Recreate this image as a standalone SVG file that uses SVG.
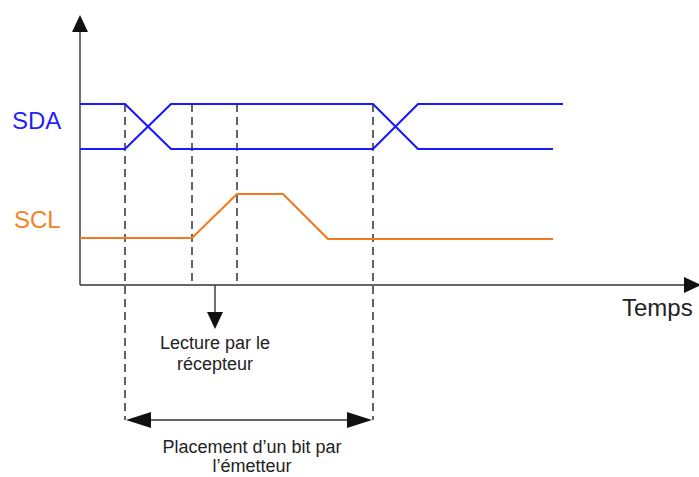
<svg xmlns="http://www.w3.org/2000/svg" width="699" height="477" viewBox="0 0 699 477">
<style>
.axis{stroke:#333;stroke-width:1.4;fill:none}
.dash{stroke:#111;stroke-width:1.3;stroke-dasharray:8,5;fill:none}
.sda{stroke:#1a1aff;stroke-width:2.2;fill:none;stroke-linejoin:miter}
.scl{stroke:#f47a20;stroke-width:2.2;fill:none}
.lbl{font-family:"Liberation Sans",Arial,sans-serif}
.note{font-family:"Liberation Sans",Arial,sans-serif;font-size:18px;fill:#222;text-anchor:middle}
.head{fill:#111}
</style>
<rect width="699" height="477" fill="#fff"/>
<g id="connectors">
  <line class="axis" x1="80" y1="30" x2="80" y2="285"/>
  <polygon class="head" points="80,15 72,32 88,32"/>
  <line class="axis" x1="80" y1="285" x2="686" y2="285"/>
  <polygon class="head" points="701,285 684,277 684,293"/>
  <line class="dash" x1="125" y1="104" x2="125" y2="420"/>
  <line class="dash" x1="373" y1="104" x2="373" y2="420"/>
  <line class="dash" x1="192" y1="104" x2="192" y2="285"/>
  <line class="dash" x1="237" y1="104" x2="237" y2="285"/>
  <line class="axis" x1="215" y1="285" x2="215" y2="314"/>
  <polygon class="head" points="215,329 207,312 223,312"/>
  <line class="axis" x1="145" y1="420" x2="353" y2="420"/>
  <polygon class="head" points="126,420 151,412 151,428"/>
  <polygon class="head" points="372,420 347,412 347,428"/>
</g>
<g id="sda">
  <polyline class="sda" points="80,104 125,104 171,149 373,149 418,104 563,104"/>
  <polyline class="sda" points="80,149 125,149 171,104 373,104 418,149 553,149"/>
  <text class="lbl" x="12" y="129" font-size="24" fill="#1f1fff">SDA</text>
</g>
<g id="scl">
  <polyline class="scl" points="80,238 192,238 237,194 283,194 328,239 553,239"/>
  <text class="lbl" x="14" y="228" font-size="24" fill="#f5822a">SCL</text>
</g>
<g id="temps">
  <text class="lbl" x="622" y="316" font-size="24" fill="#222">Temps</text>
</g>
<g id="lecture">
  <text class="note" x="215" y="349">Lecture par le</text>
  <text class="note" x="215" y="370">récepteur</text>
</g>
<g id="placement">
  <text class="note" x="252" y="453">Placement d’un bit par</text>
  <text class="note" x="252" y="472" font-size="17">l’émetteur</text>
</g>
</svg>
